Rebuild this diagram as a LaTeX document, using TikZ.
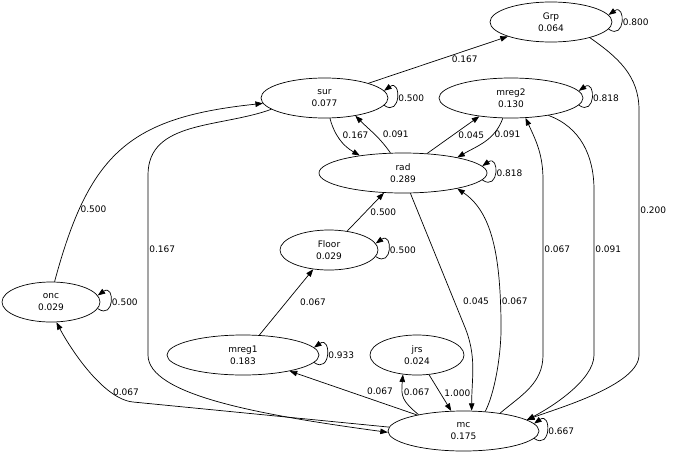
\documentclass[tikz,border=0pt]{standalone}
\usepackage{fontspec}
\setmainfont{DejaVu Sans}
\usetikzlibrary{shapes.geometric,arrows.meta,positioning}

\begin{document}
\begin{tikzpicture}[
            x=1pt, y=-1pt,
            >={Triangle[length=7.5pt,width=5.5pt]},
            state/.style={ellipse, draw, line width=0.7pt, inner sep=0pt, minimum height=40pt, align=center, font=\fontsize{9}{12}\selectfont},
            trans/.style={->, line width=0.7pt},
            selfloop/.style={trans, out=-35, in=35, min distance=21pt},
            prob/.style={font=\fontsize{9}{11}\selectfont, inner sep=1pt}
        ]
            \useasboundingbox (0,0) rectangle (674,458);

            \node[state, minimum width=122pt] (grp) at (551,22) {Grp\\0.064};
            \node[state, minimum width=127pt] (sur) at (324.5,98) {sur\\0.077};
            \node[state, minimum width=144pt] (mreg2) at (511,98) {mreg2\\0.130};
            \node[state, minimum width=168pt] (rad) at (403,173) {rad\\0.289};
            \node[state, minimum width=98pt] (floor) at (329,250) {Floor\\0.029};
            \node[state, minimum width=98pt] (onc) at (51,302) {onc\\0.029};
            \node[state, minimum width=152pt] (mreg1) at (243,355) {mreg1\\0.183};
            \node[state, minimum width=94pt] (jrs) at (417,355) {jrs\\0.024};
            \node[state, minimum width=151pt] (mc) at (463.5,431) {mc\\0.175};

            % Self loops
            \draw[selfloop] (grp.-7) to node[prob, right] {0.800} (grp.7);
            \draw[selfloop] (sur.-7) to node[prob, right] {0.500} (sur.7);
            \draw[selfloop] (mreg2.-6) to node[prob, right] {0.818} (mreg2.6);
            \draw[selfloop] (rad.-5) to node[prob, right] {0.818} (rad.5);
            \draw[selfloop] (floor.-8) to node[prob, right] {0.500} (floor.8);
            \draw[selfloop] (onc.-8) to node[prob, right] {0.500} (onc.8);
            \draw[selfloop] (mreg1.-6) to node[prob, right] {0.933} (mreg1.6);
            \draw[selfloop] (mc.-6) to node[prob, right] {0.667} (mc.6);

            \draw[trans] (sur) -- node[prob, pos=0.69, below=3.5pt] {0.167} (grp);
            \draw[trans] (onc.80) to[out=75, in=186, looseness=1.25] node[prob, pos=0.22, right] {0.500} (sur.185);
            \draw[trans] (sur.192) to[out=200, in=90] (148,175) -- node[prob, pos=0.41, right] {0.167} (148,355) .. controls (148,395) and (260,415) .. (mc.181);
            \draw[trans] (mc.177) -- (133,402) node[prob, xshift=-7pt, yshift=10pt] {0.067} .. controls (103,399) and (70,348) .. (onc.-75);
            \draw[trans] (mc) -- node[prob, pos=0.29, above=6pt] {0.067} (mreg1);
            \draw[trans] (mc.160) to[out=140, in=-95, looseness=1.3] node[prob, pos=0.65, right] {0.067} (jrs.234);
            \draw[trans] (jrs) -- node[prob, right=3pt] {1.000} (mc);
            \draw[trans] (mreg1) -- node[prob, right=12.5pt] {0.067} (floor);
            \draw[trans] (floor) -- node[prob, right=3.5pt] {0.500} (rad);

            \draw[trans] (sur.-75) to[out=-75, in=150] node[prob, pos=0.38, right=4pt] {0.167} (rad.158);
            \draw[trans] (rad.122) to[out=125, in=-45] node[prob, pos=0.48, right=7pt] {0.091} (sur.-30);
            \draw[trans] (rad.39) -- node[prob, right=3.8pt] {0.045} (mreg2.210);
            \draw[trans] (mreg2.248) to[out=-110, in=30] node[prob, pos=0.3, right] {0.091} (rad.16);

            \draw[trans] (rad.-70) -- node[prob, pos=0.82, right=7.5pt] {0.045} (464,325) to[out=-67, in=90] (mc.68);
            \draw[trans] (mc.42) .. controls (494,395) and (502,355) .. (501,320) .. controls (500,255) and (492,212) .. node[prob, pos=0.1, right] {0.067} (rad.-16);

            % Long edges on the right
            \draw[trans] (mc.26) to[out=40, in=-90] (543,355) -- node[prob, pos=0.606, right] {0.067} (543,180) to[out=90, in=-65] (mreg2.-54);
            \draw[trans] (mreg2.-25) to[out=-20, in=90] (594,190) -- node[prob, pos=0.36, right] {0.091} (594,355) to[out=-90, in=27, looseness=0.7] (mc.10);
            \draw[trans] (grp.-22) to[out=-35, in=90] (639,110) -- node[prob, pos=0.41, right] {0.200} (639,355) to[out=-90, in=21, looseness=0.6] (mc.10);
\end{tikzpicture}
\end{document}
